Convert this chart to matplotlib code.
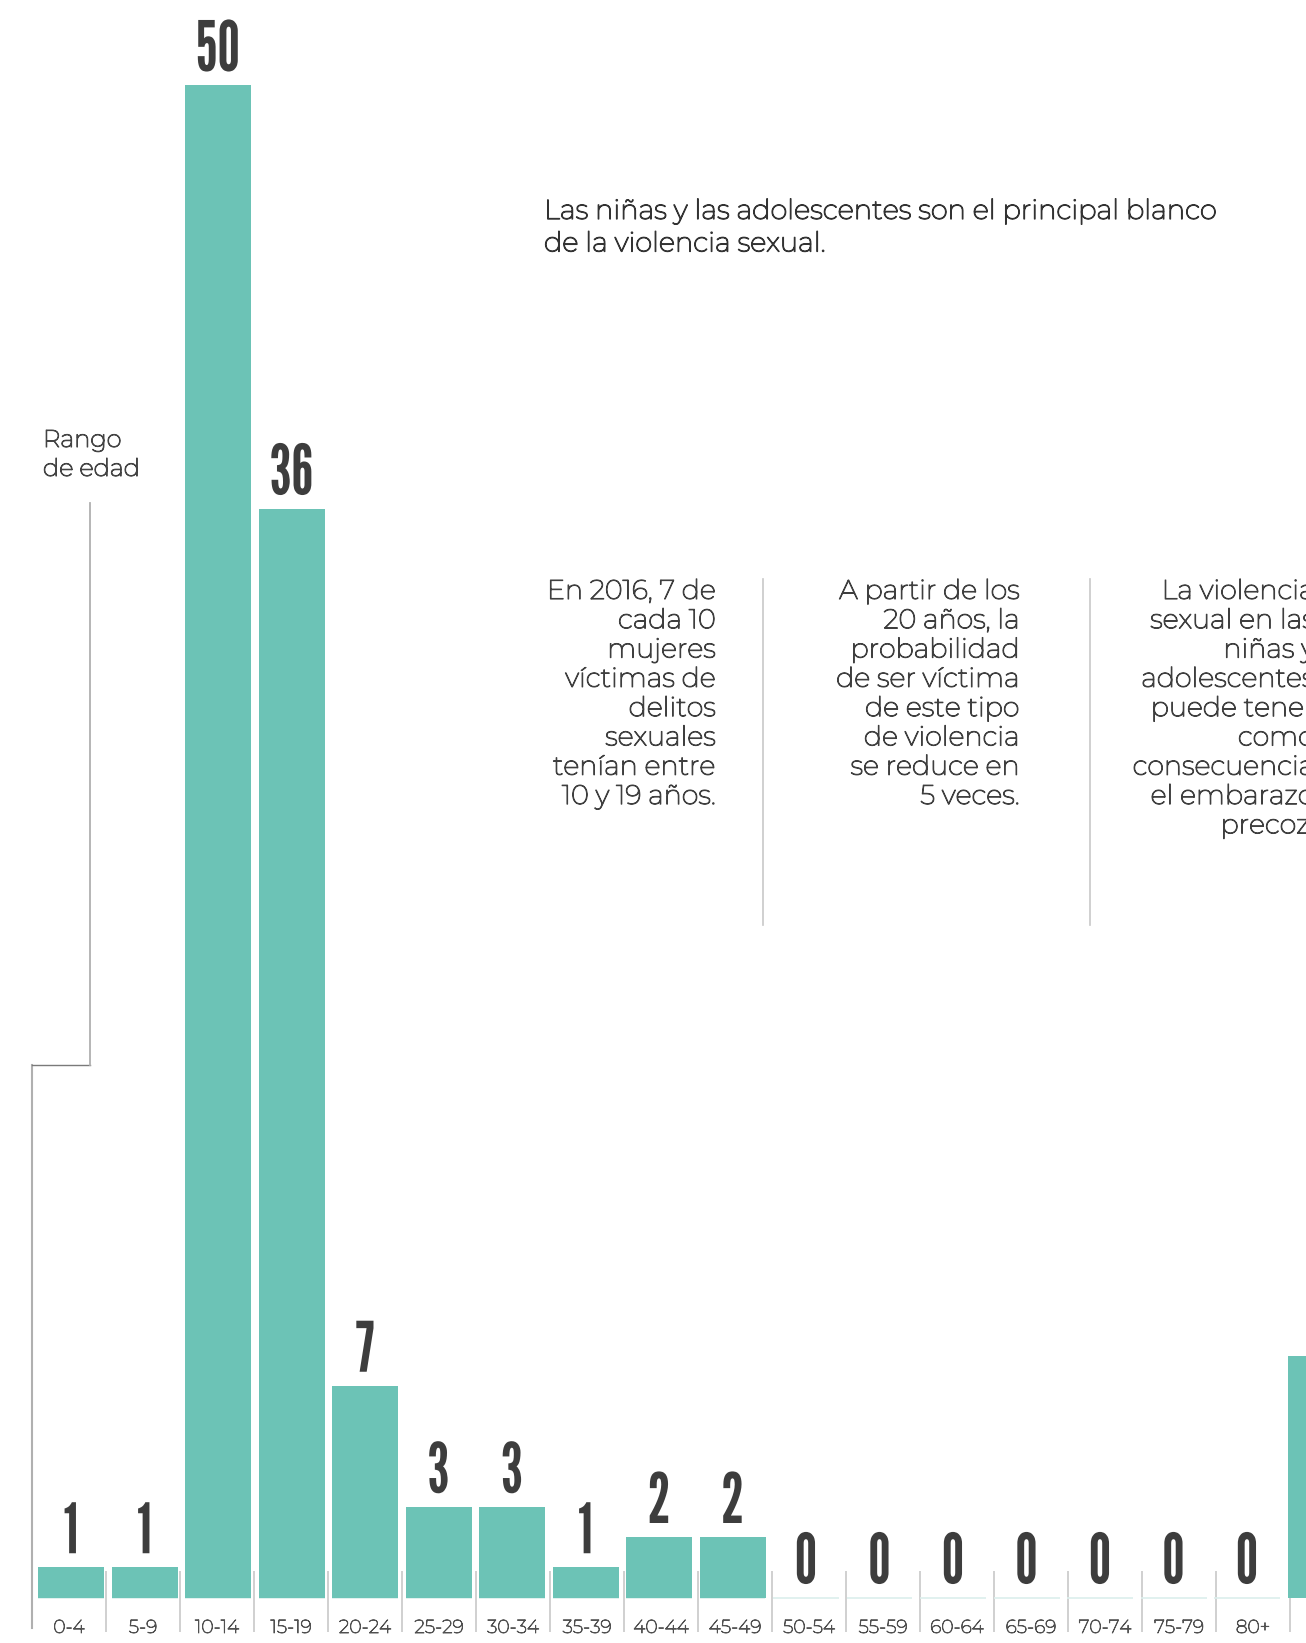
import matplotlib
matplotlib.use("Agg")
import matplotlib.pyplot as plt
from matplotlib.patheffects import AbstractPathEffect
import matplotlib.patheffects as pe
from matplotlib.transforms import Affine2D
import numpy as np

# ---------------- data ----------------
categories = ['0-4', '5-9', '10-14', '15-19', '20-24', '25-29', '30-34', '35-39',
              '40-44', '45-49', '50-54', '55-59', '60-64', '65-69', '70-74', '75-79', '80+']
values = [1, 1, 50, 36, 7, 3, 3, 1, 2, 2, 0, 0, 0, 0, 0, 0, 0]
# first bar of the neighbouring panel, cut off by the right edge
next_values = [8]

title_lines = ['Las niñas y las adolescentes son el principal blanco',
               'de la violencia sexual.']
axis_label_lines = ['Rango', 'de edad']
note1 = ['En 2016, 7 de', 'cada 10', 'mujeres', 'víctimas de', 'delitos',
         'sexuales', 'tenían entre', '10 y 19 años.']
note2 = ['A partir de los', '20 años, la', 'probabilidad', 'de ser víctima',
         'de este tipo', 'de violencia', 'se reduce en', '5 veces.']
note3 = ['La violencia', 'sexual en las', 'niñas y', 'adolescentes', 'puede tener',
         'como', 'consecuencia', 'el embarazo', 'precoz.']

# ---------------- style / layout ----------------
W, H = 1306, 1643
TEAL = '#6cc3b6'
DARK = '#3d3d3d'
TEXT = '#3f3f3f'
SANS = ['Montserrat', 'DejaVu Sans']
NUMF = ['League Gothic', 'Oswald', 'Bebas Neue', 'Roboto Condensed',
        'Liberation Sans Narrow', 'DejaVu Sans']

PX0, STEP = 71.0, 73.5        # pixel centre of first bar, bar pitch
BASE, UNIT = 1597.5, 30.25    # baseline pixel row, pixels per unit
SEP0, SEP = 32.0, 74.0        # category separators

def dx(px):
    return (px - PX0) / STEP

def dy(py):
    return (BASE - py) / UNIT

def fx(px):
    return px / W

def fy(py):
    return 1 - py / H

def bold_up(color, lw=0.8):
    return [pe.withStroke(linewidth=lw, foreground=color)]


class HSquash(AbstractPathEffect):
    """Narrow the glyphs horizontally around the text centre."""
    def __init__(self, sx):
        super().__init__()
        self.sx = sx

    def draw_path(self, renderer, gc, tpath, affine, rgbFace=None):
        verts = affine.transform(tpath.vertices)
        cx = 0.5 * (verts[:, 0].min() + verts[:, 0].max())
        aff = affine + Affine2D().translate(-cx, 0).scale(self.sx, 1).translate(cx, 0)
        renderer.draw_path(gc, tpath, aff, rgbFace)


fig = plt.figure(figsize=(W / 100, H / 100), dpi=100)
fig.patch.set_facecolor('white')
ax = fig.add_axes([0, 0, 1, 1])
ax.axis('off')
ax.set_xlim(dx(0), dx(W))
ax.set_ylim(dy(H), dy(0))

x = np.arange(len(values))
bw = 66 / STEP

# faint baseline under every bar (visible for zero values)
ax.hlines(np.zeros(len(values)), x - bw / 2, x + bw / 2, color='#dcefec', lw=1.2, zorder=2)
ax.bar(x, values, width=bw, color=TEAL, zorder=3, linewidth=0)
xn = np.arange(len(values), len(values) + len(next_values))
ax.bar(xn, next_values, width=bw, color=TEAL, zorder=3, linewidth=0)

# value labels
all_x = list(x) + list(xn)
all_v = list(values) + list(next_values)
labels = []
for xi, v in zip(all_x, all_v):
    t = ax.annotate(str(v), (xi, v), xytext=(0, 14), textcoords='offset pixels',
                    ha='center', va='baseline', fontsize=50, fontweight='bold',
                    family=NUMF, color=DARK, zorder=4)
    labels.append(t)
renderer = fig.canvas.get_renderer()
w50 = labels[2].get_window_extent(renderer).width
sx = min(1.0, 44.0 / w50)
for t in labels:
    t.set_path_effects([HSquash(sx)])

# category separators and tick labels
sep_x = [dx(SEP0 + SEP * k) for k in range(1, len(categories) + 2)]
ax.vlines(sep_x, dy(1632), dy(1571), color='#c4c4c4', lw=1.1, zorder=1)
for i, c in enumerate(categories):
    ax.text(dx(SEP0 + SEP * (i + 0.5)), dy(1628), c, ha='center', va='center',
            fontsize=13.5, family=SANS, color='#505050',
            path_effects=bold_up('#505050', 0.6))

# bracket from "Rango de edad"
ax.plot([dx(32), dx(32)], [dy(1628), dy(1065)], color='#b0b0b0', lw=1.5, zorder=1)
ax.plot([dx(32), dx(90)], [dy(1065), dy(1065)], color='#7a7a7a', lw=1.0, zorder=1)
ax.plot([dx(90), dx(90)], [dy(1065), dy(503)], color='#b0b0b0', lw=1.3, zorder=1)
for k, line in enumerate(axis_label_lines):
    fig.text(fx(43), fy(447 + 29 * k), line, ha='left', va='baseline',
             fontsize=17.4, family=SANS, color='#444444',
             path_effects=bold_up('#444444'))

# title
for k, line in enumerate(title_lines):
    fig.text(fx(544), fy(219 + 32.5 * k), line, ha='left', va='baseline',
             fontsize=19.7, family=SANS, color='#333333',
             path_effects=bold_up('#333333', 0.9))

# annotation columns
for right, lines in ((716, note1), (1020, note2), (1315, note3)):
    for k, line in enumerate(lines):
        fig.text(fx(right), fy(599 + 29.3 * k), line, ha='right', va='baseline',
                 fontsize=19.5, family=SANS, color=TEXT,
                 path_effects=bold_up(TEXT, 0.8))
for xs in (763, 1090):
    fig.add_artist(plt.Line2D([fx(xs), fx(xs)], [fy(579), fy(925)],
                              color='#c8c8c8', lw=1.2))

fig.savefig('out.png', dpi=100, facecolor='white')
